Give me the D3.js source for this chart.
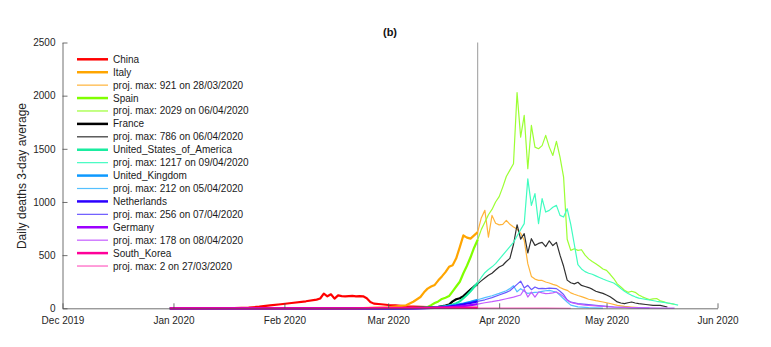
<!DOCTYPE html>
<html><head><meta charset="utf-8">
<script src="https://cdn.jsdelivr.net/npm/d3@7"></script>
<style>
body{margin:0;background:#fff}
svg text{font-family:"Liberation Sans",Arial,Helvetica,sans-serif}
</style>
</head><body>
<svg id="chart" width="771" height="347"></svg>
<script>
// ---------- data ----------
const xTickDates = ["2019-12-01","2020-01-01","2020-02-01","2020-03-01","2020-04-01","2020-05-01","2020-06-01"];
const xTickLabels = ["Dec 2019","Jan 2020","Feb 2020","Mar 2020","Apr 2020","May 2020","Jun 2020"];
const yTicks = [0,500,1000,1500,2000,2500];
const cutDate = "2020-03-26";

const countries = ["China","Italy","Spain","France","United_States_of_America","United_Kingdom","Netherlands","Germany","South_Korea"];
const projLabels = [null,"921 on 28/03/2020","2029 on 06/04/2020","786 on 06/04/2020","1217 on 09/04/2020","212 on 05/04/2020","256 on 07/04/2020","178 on 08/04/2020","2 on 27/03/2020"];
const obsColors  = ["#ff0000","#ffa500","#80ff00","#000000","#1aeca0","#0d99ff","#2b00ff","#9d00ff","#ff0099"];
const projColors = [null,"#ffb43a","#9cff33","#303030","#40fcc0","#55c0ff","#6a58ff","#c45cff","#ff5cc0"];

const chinaObs = [["2019-12-31",0],["2020-01-10",0],["2020-01-18",1],["2020-01-22",6],["2020-01-25",15],["2020-01-28",28],["2020-01-31",38],["2020-02-03",50],["2020-02-07",66],["2020-02-10",82],["2020-02-11",92],["2020-02-12",138],["2020-02-13",113],["2020-02-14",132],["2020-02-15",91],["2020-02-16",122],["2020-02-17",115],["2020-02-18",112],["2020-02-19",114],["2020-02-20",116],["2020-02-21",113],["2020-02-22",114],["2020-02-23",113],["2020-02-24",95],["2020-02-25",60],["2020-02-26",44],["2020-02-28",38],["2020-03-01",31],["2020-03-03",28],["2020-03-06",19],["2020-03-10",14],["2020-03-14",10],["2020-03-18",7],["2020-03-22",5],["2020-03-26",4]];

const italyObs = [["2019-12-31",0],["2020-02-21",0],["2020-02-25",4],["2020-03-01",10],["2020-03-04",20],["2020-03-06",28],["2020-03-08",62],["2020-03-10",106],["2020-03-11",150],["2020-03-12",185],["2020-03-13",205],["2020-03-14",220],["2020-03-15",263],["2020-03-16",300],["2020-03-17",340],["2020-03-18",390],["2020-03-19",405],["2020-03-20",470],["2020-03-21",576],["2020-03-22",686],["2020-03-23",665],["2020-03-24",655],["2020-03-25",686],["2020-03-26",717]];
const italyProj = [["2020-03-26",717],["2020-03-27",850],["2020-03-28",921],["2020-03-29",670],["2020-03-30",874],["2020-03-31",800],["2020-04-01",785],["2020-04-02",790],["2020-04-03",827],["2020-04-04",790],["2020-04-05",765],["2020-04-06",745],["2020-04-07",705],["2020-04-08",640],["2020-04-09",420],["2020-04-10",300],["2020-04-11",275],["2020-04-12",263],["2020-04-13",262],["2020-04-14",247],["2020-04-15",238],["2020-04-16",225],["2020-04-17",216],["2020-04-18",195],["2020-04-19",180],["2020-04-20",169],["2020-04-21",145],["2020-04-22",132],["2020-04-23",120],["2020-04-24",110],["2020-04-25",98],["2020-04-26",85],["2020-04-27",80],["2020-04-28",72],["2020-04-30",59],["2020-05-02",45],["2020-05-04",28],["2020-05-06",18],["2020-05-08",12],["2020-05-10",7]];

const spainObs = [["2019-12-31",0],["2020-03-01",0],["2020-03-06",1],["2020-03-09",3],["2020-03-11",7],["2020-03-12",12],["2020-03-13",30],["2020-03-14",50],["2020-03-15",65],["2020-03-16",88],["2020-03-17",100],["2020-03-18",115],["2020-03-19",160],["2020-03-20",205],["2020-03-21",250],["2020-03-22",330],["2020-03-23",400],["2020-03-24",480],["2020-03-25",570],["2020-03-26",645]];
const spainProj = [["2020-03-26",645],["2020-03-27",740],["2020-03-28",810],["2020-03-29",880],["2020-03-30",930],["2020-03-31",1000],["2020-04-01",1050],["2020-04-02",1140],["2020-04-03",1240],["2020-04-04",1300],["2020-04-05",1360],["2020-04-06",2029],["2020-04-07",1610],["2020-04-08",1814],["2020-04-09",1313],["2020-04-10",1720],["2020-04-11",1516],["2020-04-12",1501],["2020-04-13",1530],["2020-04-14",1626],["2020-04-15",1516],["2020-04-16",1438],["2020-04-17",1570],["2020-04-18",1422],["2020-04-19",1234],["2020-04-20",650],["2020-04-21",545],["2020-04-22",560],["2020-04-23",545],["2020-04-24",551],["2020-04-25",500],["2020-04-26",465],["2020-04-27",440],["2020-04-28",420],["2020-04-29",395],["2020-04-30",370],["2020-05-01",357],["2020-05-02",320],["2020-05-03",280],["2020-05-04",230],["2020-05-05",200],["2020-05-06",170],["2020-05-07",150],["2020-05-08",160],["2020-05-09",150],["2020-05-10",125],["2020-05-11",108],["2020-05-12",95],["2020-05-13",82],["2020-05-14",88],["2020-05-15",92],["2020-05-16",70],["2020-05-17",60],["2020-05-18",50],["2020-05-19",44],["2020-05-20",38]];

const franceObs = [["2019-12-31",0],["2020-03-01",0],["2020-03-08",3],["2020-03-12",8],["2020-03-15",14],["2020-03-17",25],["2020-03-18",35],["2020-03-19",65],["2020-03-20",85],["2020-03-21",95],["2020-03-22",115],["2020-03-23",145],["2020-03-24",175],["2020-03-25",205],["2020-03-26",230]];
const franceProj = [["2020-03-26",230],["2020-03-27",258],["2020-03-28",285],["2020-03-29",310],["2020-03-30",330],["2020-03-31",360],["2020-04-01",388],["2020-04-02",405],["2020-04-03",440],["2020-04-04",470],["2020-04-05",600],["2020-04-06",786],["2020-04-07",650],["2020-04-08",702],["2020-04-09",520],["2020-04-10",655],["2020-04-11",592],["2020-04-12",610],["2020-04-13",620],["2020-04-14",580],["2020-04-15",635],["2020-04-16",590],["2020-04-17",620],["2020-04-18",500],["2020-04-19",395],["2020-04-20",265],["2020-04-21",240],["2020-04-22",230],["2020-04-23",245],["2020-04-24",215],["2020-04-25",205],["2020-04-26",195],["2020-04-27",180],["2020-04-28",160],["2020-04-29",150],["2020-04-30",140],["2020-05-01",125],["2020-05-02",108],["2020-05-03",85],["2020-05-04",60],["2020-05-05",50],["2020-05-06",44],["2020-05-07",52],["2020-05-08",59],["2020-05-09",50],["2020-05-10",44],["2020-05-12",36],["2020-05-14",28],["2020-05-16",28],["2020-05-18",12]];

const usaObs = [["2019-12-31",0],["2020-02-29",0],["2020-03-05",2],["2020-03-10",4],["2020-03-14",8],["2020-03-17",18],["2020-03-19",35],["2020-03-20",48],["2020-03-21",65],["2020-03-22",95],["2020-03-23",125],["2020-03-24",160],["2020-03-25",200],["2020-03-26",240]];
const usaProj = [["2020-03-26",240],["2020-03-27",290],["2020-03-28",335],["2020-03-29",365],["2020-03-30",390],["2020-03-31",420],["2020-04-01",460],["2020-04-02",500],["2020-04-03",540],["2020-04-04",580],["2020-04-05",620],["2020-04-06",680],["2020-04-07",740],["2020-04-08",796],["2020-04-09",1217],["2020-04-10",968],["2020-04-11",1078],["2020-04-12",796],["2020-04-13",1031],["2020-04-14",905],["2020-04-15",921],["2020-04-16",950],["2020-04-17",968],["2020-04-18",874],["2020-04-19",858],["2020-04-20",937],["2020-04-21",790],["2020-04-22",600],["2020-04-23",410],["2020-04-24",370],["2020-04-25",345],["2020-04-26",330],["2020-04-27",320],["2020-04-28",305],["2020-04-29",290],["2020-04-30",275],["2020-05-01",262],["2020-05-02",250],["2020-05-03",238],["2020-05-04",215],["2020-05-05",185],["2020-05-06",160],["2020-05-07",140],["2020-05-08",122],["2020-05-09",108],["2020-05-10",96],["2020-05-11",90],["2020-05-12",84],["2020-05-13",78],["2020-05-15",66],["2020-05-17",56],["2020-05-19",45],["2020-05-21",30]];

const ukObs = [["2019-12-31",0],["2020-03-05",0],["2020-03-12",3],["2020-03-15",10],["2020-03-18",22],["2020-03-20",32],["2020-03-22",45],["2020-03-24",60],["2020-03-26",80]];
const ukProj = [["2020-03-26",80],["2020-03-28",100],["2020-03-30",118],["2020-04-01",140],["2020-04-03",165],["2020-04-04",185],["2020-04-05",212],["2020-04-06",155],["2020-04-07",185],["2020-04-08",160],["2020-04-09",140],["2020-04-10",145],["2020-04-11",150],["2020-04-12",153],["2020-04-13",160],["2020-04-14",165],["2020-04-15",169],["2020-04-16",160],["2020-04-17",153],["2020-04-18",122],["2020-04-19",90],["2020-04-20",59],["2020-04-21",30],["2020-04-23",14],["2020-04-26",6],["2020-04-30",2]];

const nlObs = [["2019-12-31",0],["2020-03-08",0],["2020-03-13",3],["2020-03-17",12],["2020-03-20",25],["2020-03-22",38],["2020-03-24",50],["2020-03-26",65]];
const nlProj = [["2020-03-26",65],["2020-03-28",80],["2020-03-30",100],["2020-04-01",125],["2020-04-03",150],["2020-04-04",165],["2020-04-05",195],["2020-04-06",225],["2020-04-07",256],["2020-04-08",190],["2020-04-09",216],["2020-04-10",175],["2020-04-11",200],["2020-04-12",185],["2020-04-13",188],["2020-04-14",185],["2020-04-15",190],["2020-04-16",188],["2020-04-17",185],["2020-04-18",160],["2020-04-19",130],["2020-04-20",80],["2020-04-21",58],["2020-04-23",44],["2020-04-26",35],["2020-04-28",28],["2020-05-01",18],["2020-05-03",12],["2020-05-08",6],["2020-05-13",3]];

const deObs = [["2019-12-31",0],["2020-03-09",0],["2020-03-14",3],["2020-03-18",8],["2020-03-21",18],["2020-03-23",26],["2020-03-26",40]];
const deProj = [["2020-03-26",40],["2020-03-28",52],["2020-03-30",62],["2020-04-01",75],["2020-04-03",90],["2020-04-05",105],["2020-04-07",125],["2020-04-08",178],["2020-04-09",106],["2020-04-10",153],["2020-04-11",106],["2020-04-12",153],["2020-04-13",145],["2020-04-14",138],["2020-04-15",140],["2020-04-16",145],["2020-04-17",153],["2020-04-18",135],["2020-04-19",110],["2020-04-20",75],["2020-04-21",55],["2020-04-23",40],["2020-04-25",30],["2020-04-28",22],["2020-05-01",15],["2020-05-04",10],["2020-05-08",6],["2020-05-12",4],["2020-05-16",2],["2020-05-20",1]];

const skObs = [["2019-12-31",0],["2020-02-20",0],["2020-02-24",2],["2020-03-01",4],["2020-03-05",5],["2020-03-10",5],["2020-03-15",6],["2020-03-20",6],["2020-03-26",5]];
const skProj = [["2020-03-26",1.6],["2020-03-27",2],["2020-04-01",1.7],["2020-04-07",1.2],["2020-04-14",0.8],["2020-04-21",0.4]];

const obsSeries  = [chinaObs, italyObs, spainObs, franceObs, usaObs, ukObs, nlObs, deObs, skObs];
const projSeries = [null, italyProj, spainProj, franceProj, usaProj, ukProj, nlProj, deProj, skProj];

// ---------- drawing ----------
const parse = d3.utcParse("%Y-%m-%d");
const svg = d3.select("#chart");
const x = d3.scaleUtc().domain([parse("2019-12-01"), parse("2020-06-01")]).range([62.5, 717.5]);
const y = d3.scaleLinear().domain([0, 2500]).range([308.3, 42.5]);
const axisColor = "#4d4d4d";

// vertical cut line
svg.append("line")
  .attr("x1", x(parse(cutDate))).attr("x2", x(parse(cutDate)))
  .attr("y1", y(2500)).attr("y2", y(0))
  .attr("stroke", "#9a9a9a").attr("stroke-width", 1);

const line = d3.line().x(d => x(parse(d[0]))).y(d => y(d[1]));
const g = svg.append("g").attr("fill", "none").attr("stroke-linejoin", "round");
countries.forEach((c, i) => {
  g.append("path").attr("d", line(obsSeries[i])).attr("stroke", obsColors[i]).attr("stroke-width", 2.2);
  if (projSeries[i]) g.append("path").attr("d", line(projSeries[i])).attr("stroke", projColors[i]).attr("stroke-width", 1.2);
});

// axes
const xAxis = d3.axisBottom(x).tickValues(xTickDates.map(parse))
  .tickFormat((d, i) => xTickLabels[i]).tickSizeInner(-5).tickSizeOuter(0).tickPadding(9);
const gx = svg.append("g").attr("transform", `translate(0,${y(0)})`).call(xAxis);
const yAxis = d3.axisLeft(y).tickValues(yTicks).tickFormat(d3.format("d"))
  .tickSizeInner(-5).tickSizeOuter(0).tickPadding(7);
const gy = svg.append("g").attr("transform", `translate(${x.range()[0]},0)`).call(yAxis);
[gx, gy].forEach(a => {
  a.selectAll("path,line").attr("stroke", axisColor).attr("stroke-width", 0.8);
  a.selectAll("text").attr("fill", "#262626").style("font-size", "10px")
   .style("font-family", '"Liberation Sans",Arial,sans-serif');
});

// labels
svg.append("text").attr("x", 390).attr("y", 36).attr("text-anchor", "middle")
  .attr("font-weight", "bold").attr("font-size", 11).attr("fill", "#111").text("(b)");
svg.append("text").attr("transform", "translate(26,176) rotate(-90)").attr("text-anchor", "middle")
  .attr("font-size", 12).attr("fill", "#262626").text("Daily deaths 3-day average");

// legend
const legendItems = [];
countries.forEach((c, i) => {
  legendItems.push({label: c, color: obsColors[i], w: 2.5});
  if (projLabels[i]) legendItems.push({label: "proj. max: " + projLabels[i], color: projColors[i], w: 1.2});
});
const lg = svg.append("g");
legendItems.forEach((it, k) => {
  const yy = 59.3 + k * 12.92;
  lg.append("line").attr("x1", 77).attr("x2", 108).attr("y1", yy).attr("y2", yy)
    .attr("stroke", it.color).attr("stroke-width", it.w);
  lg.append("text").attr("x", 113).attr("y", yy).attr("dy", "0.35em")
    .attr("font-size", 10).attr("fill", "#1a1a1a").text(it.label);
});
</script>
</body></html>
